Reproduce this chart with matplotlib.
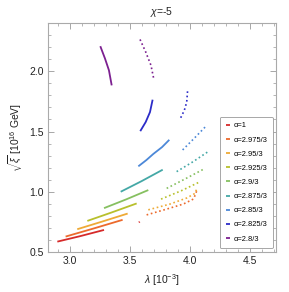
import matplotlib
matplotlib.use('Agg')
import matplotlib.pyplot as plt
from matplotlib.ticker import MultipleLocator

plt.rcParams['font.family'] = ['Liberation Sans', 'DejaVu Sans']
plt.rcParams['mathtext.fontset'] = 'custom'
plt.rcParams['mathtext.it'] = 'Liberation Sans:italic'
plt.rcParams['mathtext.rm'] = 'Liberation Sans'

# legend labels and colours
labels = ['α=1', 'α=2.975/3', 'α=2.95/3', 'α=2.925/3', 'α=2.9/3',
          'α=2.875/3', 'α=2.85/3', 'α=2.825/3', 'α=2.8/3']
colors = ['#d62a2a', '#ec6a2c', '#eeaa36', '#b8c02c', '#86c060',
          '#44a8a6', '#4c88d8', '#2c2cc8', '#7c2090']

# solid branches (lambda [1e-3], sqrt(xi) [1e16 GeV])
solid_x = [
    [2.898, 3.09, 3.287],
    [2.967, 3.20, 3.442],
    [3.064, 3.27, 3.484],
    [3.148, 3.35, 3.559],
    [3.287, 3.47, 3.656],
    [3.426, 3.60, 3.776],
    [3.573, 3.64, 3.698, 3.77, 3.831],
    [3.589, 3.634, 3.670, 3.692],
    [3.256, 3.295, 3.328, 3.351],
]
solid_y = [
    [0.586, 0.632, 0.683],
    [0.628, 0.695, 0.767],
    [0.689, 0.752, 0.819],
    [0.758, 0.828, 0.903],
    [0.864, 0.936, 1.014],
    [1.000, 1.088, 1.183],
    [1.211, 1.263, 1.314, 1.370, 1.431],
    [1.503, 1.578, 1.661, 1.764],
    [2.208, 2.106, 2.008, 1.883],
]
# dotted branches
dot_x = [
    [3.578, 3.584],
    [3.642, 3.809, 3.948, 4.031, 4.051, 4.059],
    [3.656, 3.837, 3.976, 4.045, 4.059],
    [3.762, 3.93, 4.087],
    [3.809, 3.96, 4.114],
    [3.892, 4.03, 4.159],
    [3.942, 4.04, 4.142],
    [3.926, 3.956, 3.976, 3.984],
    [3.587, 3.634, 3.678, 3.701],
]
dot_y = [
    [0.745, 0.752],
    [0.808, 0.856, 0.898, 0.939, 0.981, 1.008],
    [0.850, 0.898, 0.948, 0.986, 1.022],
    [0.939, 1.008, 1.083],
    [1.028, 1.105, 1.186],
    [1.167, 1.250, 1.336],
    [1.347, 1.445, 1.550],
    [1.614, 1.675, 1.744, 1.847],
    [2.264, 2.161, 2.050, 1.939],
]

fig = plt.figure(figsize=(2.89, 2.92), dpi=100)
ax = fig.add_axes([0.166, 0.137, 0.789, 0.784])

for i in range(len(labels)):
    ax.plot(solid_x[i], solid_y[i], color=colors[i], lw=1.3,
            solid_capstyle='butt', solid_joinstyle='round', label=labels[i])
    ax.plot(dot_x[i], dot_y[i], color=colors[i], lw=1.2,
            linestyle=(0, (1, 1.6)))

ax.set_xlim(2.82, 4.72)
ax.set_ylim(0.5, 2.4)
ax.xaxis.set_major_locator(MultipleLocator(0.5))
ax.xaxis.set_minor_locator(MultipleLocator(0.1))
ax.yaxis.set_major_locator(MultipleLocator(0.5))
ax.yaxis.set_minor_locator(MultipleLocator(0.1))
ax.tick_params(which='both', direction='in', top=True, right=True,
               color='#999999', labelsize=7.5, labelcolor='#222222', pad=3)
ax.tick_params(which='major', length=4, width=0.6)
ax.tick_params(which='minor', length=2, width=0.5)
for s in ax.spines.values():
    s.set_color('#aaaaaa')
    s.set_linewidth(0.8)

ax.set_title(r'$\chi$=-5', fontsize=7.5, pad=6, color='#222222')
ax.set_xlabel(r'$\lambda$ [10$^{-3}$]', fontsize=7.5, color='#222222', labelpad=4)
ax.set_ylabel(r'$\sqrt{\xi}$ [10$^{16}$ GeV]', fontsize=7.5, color='#222222', labelpad=3)

leg = ax.legend(loc='lower right', bbox_to_anchor=(0.993, 0.01), fontsize=5.4,
                handlelength=0.55, handletextpad=0.5, labelspacing=0.92,
                borderpad=0.75, borderaxespad=0.2, fancybox=True, framealpha=1,
                edgecolor='#999999')
leg.get_frame().set_linewidth(0.6)

fig.savefig('out.png', dpi=100)
